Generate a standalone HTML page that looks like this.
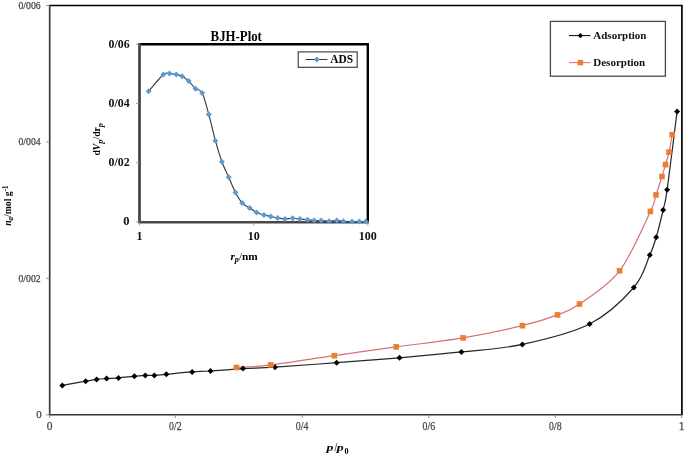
<!DOCTYPE html>
<html><head><meta charset="utf-8"><style>
html,body{margin:0;padding:0;background:#fff;}
svg{display:block;filter:blur(0.3px);}
.tk{font-family:"Liberation Serif",serif;font-size:10.8px;fill:#444;stroke:#444;stroke-width:0.25px;}
.ttl{font-family:"Liberation Serif",serif;font-size:12px;font-weight:bold;fill:#000;}
.lg{font-family:"Liberation Serif",serif;font-size:11px;font-weight:bold;fill:#111;}
.itk{font-family:"Liberation Serif",serif;font-size:12px;font-weight:bold;fill:#111;}
.itl{font-family:"Liberation Serif",serif;font-size:13px;font-weight:bold;fill:#000;}
.itl2{font-family:"Liberation Serif",serif;font-size:12px;font-weight:bold;fill:#000;}
</style></head><body>
<svg width="685" height="456" viewBox="0 0 685 456">
<rect width="685" height="456" fill="#fff"/>
<line x1="48.90" y1="5.50" x2="682.70" y2="5.50" stroke="#000" stroke-width="1.7"/>
<line x1="681.90" y1="5.50" x2="681.90" y2="414.80" stroke="#000" stroke-width="1.7"/>
<line x1="49.70" y1="5.50" x2="49.70" y2="414.80" stroke="#3a3a3a" stroke-width="1.7"/>
<line x1="48.90" y1="414.80" x2="682.70" y2="414.80" stroke="#333" stroke-width="1.6"/>
<line x1="46.20" y1="414.80" x2="49.70" y2="414.80" stroke="#777" stroke-width="0.8"/>
<text x="41.7" y="418.40" class="tk" text-anchor="end">0</text>
<line x1="46.20" y1="278.37" x2="49.70" y2="278.37" stroke="#777" stroke-width="0.8"/>
<text x="40.6" y="281.57" class="tk" text-anchor="end" textLength="22.1" lengthAdjust="spacingAndGlyphs">0/002</text>
<line x1="46.20" y1="141.93" x2="49.70" y2="141.93" stroke="#777" stroke-width="0.8"/>
<text x="40.6" y="145.13" class="tk" text-anchor="end" textLength="22.1" lengthAdjust="spacingAndGlyphs">0/004</text>
<line x1="46.20" y1="5.50" x2="49.70" y2="5.50" stroke="#777" stroke-width="0.8"/>
<text x="40.6" y="8.70" class="tk" text-anchor="end" textLength="22.1" lengthAdjust="spacingAndGlyphs">0/006</text>
<line x1="49.70" y1="414.80" x2="49.70" y2="418.10" stroke="#777" stroke-width="0.8"/>
<text x="49.70" y="429.8" class="tk" text-anchor="middle" style="font-size:11.5px">0</text>
<line x1="175.30" y1="414.80" x2="175.30" y2="418.10" stroke="#777" stroke-width="0.8"/>
<text x="175.30" y="429.8" class="tk" text-anchor="middle" style="font-size:11.5px" textLength="12.5" lengthAdjust="spacingAndGlyphs">0/2</text>
<line x1="302.10" y1="414.80" x2="302.10" y2="418.10" stroke="#777" stroke-width="0.8"/>
<text x="302.10" y="429.8" class="tk" text-anchor="middle" style="font-size:11.5px" textLength="12.5" lengthAdjust="spacingAndGlyphs">0/4</text>
<line x1="428.80" y1="414.80" x2="428.80" y2="418.10" stroke="#777" stroke-width="0.8"/>
<text x="428.80" y="429.8" class="tk" text-anchor="middle" style="font-size:11.5px" textLength="12.5" lengthAdjust="spacingAndGlyphs">0/6</text>
<line x1="555.30" y1="414.80" x2="555.30" y2="418.10" stroke="#777" stroke-width="0.8"/>
<text x="555.30" y="429.8" class="tk" text-anchor="middle" style="font-size:11.5px" textLength="12.5" lengthAdjust="spacingAndGlyphs">0/8</text>
<line x1="681.60" y1="414.80" x2="681.60" y2="418.10" stroke="#777" stroke-width="0.8"/>
<text x="681.60" y="429.8" class="tk" text-anchor="middle" style="font-size:11.5px">1</text>
<text x="326.5" y="450.7" class="ttl" style="font-size:11.3px" font-style="italic" textLength="6.9" lengthAdjust="spacingAndGlyphs">p</text>
<line x1="334.7" y1="451.4" x2="337.0" y2="443.0" stroke="#666" stroke-width="0.9"/>
<text x="336.8" y="450.7" class="ttl" style="font-size:11.3px" font-style="italic" textLength="6.9" lengthAdjust="spacingAndGlyphs">p</text>
<text x="344.5" y="454.0" class="ttl" style="font-size:8.2px">0</text>
<text transform="translate(10.8,225.8) rotate(-90)" class="ttl" style="font-size:10.5px" textLength="40.3" lengthAdjust="spacingAndGlyphs"><tspan font-style="italic">n</tspan><tspan font-style="italic" style="font-size:7.5px" dy="1.9">a</tspan><tspan dy="-1.9" font-weight="normal">/</tspan>mol g<tspan style="font-size:7.5px" dy="-2.4">-1</tspan></text>
<path d="M236.40,367.50 C242.10,367.07 254.28,366.87 270.60,364.90 C286.92,362.93 313.37,358.70 334.30,355.70 C355.23,352.70 374.73,349.87 396.20,346.90 C417.67,343.93 442.07,341.43 463.10,337.90 C484.13,334.37 506.67,329.53 522.40,325.70 C538.13,321.87 547.98,318.52 557.50,314.90 C567.02,311.28 569.15,311.35 579.50,304.00 C589.85,296.65 607.78,286.23 619.60,270.80 C631.42,255.37 644.33,224.05 650.40,211.40 C656.47,198.75 654.07,200.72 656.00,194.90 C657.93,189.08 660.42,181.55 662.00,176.50 C663.58,171.45 664.33,168.67 665.50,164.60 C666.67,160.53 667.88,157.08 669.00,152.10 C670.12,147.12 671.67,137.60 672.20,134.70" fill="none" stroke="#d87070" stroke-width="1.2"/>
<path d="M62.30,385.40 C66.20,384.70 79.98,382.20 85.70,381.20 C91.42,380.20 93.12,379.83 96.60,379.40 C100.08,378.97 102.95,378.85 106.60,378.60 C110.25,378.35 113.87,378.28 118.50,377.90 C123.13,377.52 129.93,376.72 134.40,376.30 C138.87,375.88 141.97,375.55 145.30,375.40 C148.63,375.25 150.90,375.58 154.40,375.40 C157.90,375.22 160.02,374.88 166.30,374.30 C172.58,373.72 184.73,372.45 192.10,371.90 C199.47,371.35 202.02,371.55 210.50,371.00 C218.98,370.45 232.25,369.23 243.00,368.60 C253.75,367.97 259.40,368.18 275.00,367.20 C290.60,366.22 315.85,364.27 336.60,362.70 C357.35,361.13 378.70,359.60 399.50,357.80 C420.30,356.00 440.92,354.13 461.40,351.90 C481.88,349.67 501.03,349.05 522.40,344.40 C543.77,339.75 571.03,333.48 589.60,324.00 C608.17,314.52 623.77,298.98 633.80,287.50 C643.83,276.02 646.07,263.47 649.80,255.10 C653.53,246.73 653.98,244.82 656.20,237.30 C658.42,229.78 661.28,217.92 663.10,210.00 C664.92,202.08 664.77,206.23 667.10,189.80 C669.43,173.37 675.43,124.47 677.10,111.40" fill="none" stroke="#262626" stroke-width="1.2"/>
<path d="M62.30,382.40 L65.30,385.40 L62.30,388.40 L59.30,385.40 Z" fill="#000"/>
<path d="M85.70,378.20 L88.70,381.20 L85.70,384.20 L82.70,381.20 Z" fill="#000"/>
<path d="M96.60,376.40 L99.60,379.40 L96.60,382.40 L93.60,379.40 Z" fill="#000"/>
<path d="M106.60,375.60 L109.60,378.60 L106.60,381.60 L103.60,378.60 Z" fill="#000"/>
<path d="M118.50,374.90 L121.50,377.90 L118.50,380.90 L115.50,377.90 Z" fill="#000"/>
<path d="M134.40,373.30 L137.40,376.30 L134.40,379.30 L131.40,376.30 Z" fill="#000"/>
<path d="M145.30,372.40 L148.30,375.40 L145.30,378.40 L142.30,375.40 Z" fill="#000"/>
<path d="M154.40,372.40 L157.40,375.40 L154.40,378.40 L151.40,375.40 Z" fill="#000"/>
<path d="M166.30,371.30 L169.30,374.30 L166.30,377.30 L163.30,374.30 Z" fill="#000"/>
<path d="M192.10,368.90 L195.10,371.90 L192.10,374.90 L189.10,371.90 Z" fill="#000"/>
<path d="M210.50,368.00 L213.50,371.00 L210.50,374.00 L207.50,371.00 Z" fill="#000"/>
<path d="M243.00,365.60 L246.00,368.60 L243.00,371.60 L240.00,368.60 Z" fill="#000"/>
<path d="M275.00,364.20 L278.00,367.20 L275.00,370.20 L272.00,367.20 Z" fill="#000"/>
<path d="M336.60,359.70 L339.60,362.70 L336.60,365.70 L333.60,362.70 Z" fill="#000"/>
<path d="M399.50,354.80 L402.50,357.80 L399.50,360.80 L396.50,357.80 Z" fill="#000"/>
<path d="M461.40,348.90 L464.40,351.90 L461.40,354.90 L458.40,351.90 Z" fill="#000"/>
<path d="M522.40,341.40 L525.40,344.40 L522.40,347.40 L519.40,344.40 Z" fill="#000"/>
<path d="M589.60,321.00 L592.60,324.00 L589.60,327.00 L586.60,324.00 Z" fill="#000"/>
<path d="M633.80,284.50 L636.80,287.50 L633.80,290.50 L630.80,287.50 Z" fill="#000"/>
<path d="M649.80,252.10 L652.80,255.10 L649.80,258.10 L646.80,255.10 Z" fill="#000"/>
<path d="M656.20,234.30 L659.20,237.30 L656.20,240.30 L653.20,237.30 Z" fill="#000"/>
<path d="M663.10,207.00 L666.10,210.00 L663.10,213.00 L660.10,210.00 Z" fill="#000"/>
<path d="M667.10,186.80 L670.10,189.80 L667.10,192.80 L664.10,189.80 Z" fill="#000"/>
<path d="M677.10,108.40 L680.10,111.40 L677.10,114.40 L674.10,111.40 Z" fill="#000"/>
<rect x="233.60" y="364.70" width="5.60" height="5.60" fill="#ed7d31"/>
<rect x="267.80" y="362.10" width="5.60" height="5.60" fill="#ed7d31"/>
<rect x="331.50" y="352.90" width="5.60" height="5.60" fill="#ed7d31"/>
<rect x="393.40" y="344.10" width="5.60" height="5.60" fill="#ed7d31"/>
<rect x="460.30" y="335.10" width="5.60" height="5.60" fill="#ed7d31"/>
<rect x="519.60" y="322.90" width="5.60" height="5.60" fill="#ed7d31"/>
<rect x="554.70" y="312.10" width="5.60" height="5.60" fill="#ed7d31"/>
<rect x="576.70" y="301.20" width="5.60" height="5.60" fill="#ed7d31"/>
<rect x="616.80" y="268.00" width="5.60" height="5.60" fill="#ed7d31"/>
<rect x="647.60" y="208.60" width="5.60" height="5.60" fill="#ed7d31"/>
<rect x="653.20" y="192.10" width="5.60" height="5.60" fill="#ed7d31"/>
<rect x="659.20" y="173.70" width="5.60" height="5.60" fill="#ed7d31"/>
<rect x="662.70" y="161.80" width="5.60" height="5.60" fill="#ed7d31"/>
<rect x="666.20" y="149.30" width="5.60" height="5.60" fill="#ed7d31"/>
<rect x="669.40" y="131.90" width="5.60" height="5.60" fill="#ed7d31"/>
<rect x="550.4" y="21.4" width="115" height="54.8" fill="#fff" stroke="#4a4a4a" stroke-width="1.3"/>
<line x1="569" y1="35.6" x2="590.5" y2="35.6" stroke="#000" stroke-width="1"/>
<path d="M580.40,33.00 L583.00,35.60 L580.40,38.20 L577.80,35.60 Z" fill="#000"/>
<text x="593.3" y="39.3" class="lg">Adsorption</text>
<line x1="569" y1="62.6" x2="590.5" y2="62.6" stroke="#d88080" stroke-width="1.1"/>
<rect x="577.70" y="59.90" width="5.40" height="5.40" fill="#ed7d31"/>
<text x="593.3" y="65.7" class="lg">Desorption</text>
<rect x="139.50" y="44.20" width="228.30" height="177.80" fill="#fff"/>
<line x1="138.50" y1="44.20" x2="369.00" y2="44.20" stroke="#000" stroke-width="2.6"/>
<line x1="367.80" y1="44.20" x2="367.80" y2="222.00" stroke="#000" stroke-width="2.4"/>
<line x1="139.50" y1="43.20" x2="139.50" y2="222.00" stroke="#484848" stroke-width="2.8"/>
<line x1="138.10" y1="222.30" x2="368.90" y2="222.30" stroke="#484848" stroke-width="2.6"/>
<line x1="136" y1="222.00" x2="139.50" y2="222.00" stroke="#888" stroke-width="0.8"/>
<text x="129.6" y="225.40" class="itk" text-anchor="end" style="font-size:12.5px">0</text>
<line x1="136" y1="162.73" x2="139.50" y2="162.73" stroke="#888" stroke-width="0.8"/>
<text x="129.6" y="166.13" class="itk" text-anchor="end" style="font-size:12.5px" textLength="21.1" lengthAdjust="spacingAndGlyphs">0/02</text>
<line x1="136" y1="103.47" x2="139.50" y2="103.47" stroke="#888" stroke-width="0.8"/>
<text x="129.6" y="106.87" class="itk" text-anchor="end" style="font-size:12.5px" textLength="21.1" lengthAdjust="spacingAndGlyphs">0/04</text>
<line x1="136" y1="44.20" x2="139.50" y2="44.20" stroke="#888" stroke-width="0.8"/>
<text x="129.6" y="47.60" class="itk" text-anchor="end" style="font-size:12.5px" textLength="21.1" lengthAdjust="spacingAndGlyphs">0/06</text>
<line x1="139.50" y1="222.00" x2="139.50" y2="225.50" stroke="#888" stroke-width="0.8"/>
<text x="139.50" y="240" class="itk" text-anchor="middle">1</text>
<line x1="253.65" y1="222.00" x2="253.65" y2="225.50" stroke="#888" stroke-width="0.8"/>
<text x="253.65" y="240" class="itk" text-anchor="middle">10</text>
<line x1="367.80" y1="222.00" x2="367.80" y2="225.50" stroke="#888" stroke-width="0.8"/>
<text x="367.80" y="240" class="itk" text-anchor="middle">100</text>
<text x="210.6" y="40.6" class="itl" style="font-size:13.8px" textLength="51.3" lengthAdjust="spacingAndGlyphs">BJH-Plot</text>
<text x="230.4" y="259.8" class="itl" style="font-size:11px" textLength="27.4" lengthAdjust="spacingAndGlyphs"><tspan font-style="italic">r</tspan><tspan font-style="italic" style="font-size:8px" dy="2.5">p</tspan><tspan dy="-2.5" font-weight="normal">/</tspan>nm</text>
<text transform="translate(100.4,155.6) rotate(-90)" class="itl2" style="font-size:10px" textLength="32.6" lengthAdjust="spacingAndGlyphs">d<tspan font-style="italic">V</tspan><tspan font-style="italic" style="font-size:8.5px" dy="2.4">p</tspan><tspan dy="-2.4" font-weight="normal">/</tspan>dr<tspan font-style="italic" style="font-size:8.5px" dy="2.4">p</tspan></text>
<path d="M148.60,91.30 C151.07,88.50 159.92,77.45 163.40,74.50 C166.88,71.55 167.37,73.60 169.50,73.60 C171.63,73.60 174.10,74.05 176.20,74.50 C178.30,74.95 180.02,75.20 182.10,76.30 C184.18,77.40 186.47,79.03 188.70,81.10 C190.93,83.17 193.25,86.73 195.50,88.70 C197.75,90.67 199.98,88.62 202.20,92.90 C204.42,97.18 206.60,106.43 208.80,114.40 C211.00,122.37 213.22,132.80 215.40,140.70 C217.58,148.60 219.68,155.70 221.90,161.80 C224.12,167.90 226.43,172.18 228.70,177.30 C230.97,182.42 233.25,188.22 235.50,192.50 C237.75,196.78 239.83,200.42 242.20,203.00 C244.57,205.58 247.28,206.42 249.70,208.00 C252.12,209.58 254.32,211.35 256.70,212.50 C259.08,213.65 261.67,214.23 264.00,214.90 C266.33,215.57 268.42,215.98 270.70,216.50 C272.98,217.02 275.33,217.60 277.70,218.00 C280.07,218.40 282.42,218.85 284.90,218.90 C287.38,218.95 290.10,218.27 292.60,218.30 C295.10,218.33 297.42,218.87 299.90,219.10 C302.38,219.33 305.12,219.45 307.50,219.70 C309.88,219.95 311.93,220.45 314.20,220.60 C316.47,220.75 318.62,220.50 321.10,220.60 C323.58,220.70 326.48,221.20 329.10,221.20 C331.72,221.20 334.42,220.60 336.80,220.60 C339.18,220.60 340.87,221.03 343.40,221.20 C345.93,221.37 349.35,221.53 352.00,221.60 C354.65,221.67 357.03,221.60 359.30,221.60 C361.57,221.60 364.55,221.60 365.60,221.60" fill="none" stroke="#3a3a3a" stroke-width="1.15"/>
<path d="M148.60,88.30 L151.60,91.30 L148.60,94.30 L145.60,91.30 Z" fill="#5b9bd5"/>
<path d="M163.40,71.50 L166.40,74.50 L163.40,77.50 L160.40,74.50 Z" fill="#5b9bd5"/>
<path d="M169.50,70.60 L172.50,73.60 L169.50,76.60 L166.50,73.60 Z" fill="#5b9bd5"/>
<path d="M176.20,71.50 L179.20,74.50 L176.20,77.50 L173.20,74.50 Z" fill="#5b9bd5"/>
<path d="M182.10,73.30 L185.10,76.30 L182.10,79.30 L179.10,76.30 Z" fill="#5b9bd5"/>
<path d="M188.70,78.10 L191.70,81.10 L188.70,84.10 L185.70,81.10 Z" fill="#5b9bd5"/>
<path d="M195.50,85.70 L198.50,88.70 L195.50,91.70 L192.50,88.70 Z" fill="#5b9bd5"/>
<path d="M202.20,89.90 L205.20,92.90 L202.20,95.90 L199.20,92.90 Z" fill="#5b9bd5"/>
<path d="M208.80,111.40 L211.80,114.40 L208.80,117.40 L205.80,114.40 Z" fill="#5b9bd5"/>
<path d="M215.40,137.70 L218.40,140.70 L215.40,143.70 L212.40,140.70 Z" fill="#5b9bd5"/>
<path d="M221.90,158.80 L224.90,161.80 L221.90,164.80 L218.90,161.80 Z" fill="#5b9bd5"/>
<path d="M228.70,174.30 L231.70,177.30 L228.70,180.30 L225.70,177.30 Z" fill="#5b9bd5"/>
<path d="M235.50,189.50 L238.50,192.50 L235.50,195.50 L232.50,192.50 Z" fill="#5b9bd5"/>
<path d="M242.20,200.00 L245.20,203.00 L242.20,206.00 L239.20,203.00 Z" fill="#5b9bd5"/>
<path d="M249.70,205.00 L252.70,208.00 L249.70,211.00 L246.70,208.00 Z" fill="#5b9bd5"/>
<path d="M256.70,209.50 L259.70,212.50 L256.70,215.50 L253.70,212.50 Z" fill="#5b9bd5"/>
<path d="M264.00,211.90 L267.00,214.90 L264.00,217.90 L261.00,214.90 Z" fill="#5b9bd5"/>
<path d="M270.70,213.50 L273.70,216.50 L270.70,219.50 L267.70,216.50 Z" fill="#5b9bd5"/>
<path d="M277.70,215.00 L280.70,218.00 L277.70,221.00 L274.70,218.00 Z" fill="#5b9bd5"/>
<path d="M284.90,215.90 L287.90,218.90 L284.90,221.90 L281.90,218.90 Z" fill="#5b9bd5"/>
<path d="M292.60,215.30 L295.60,218.30 L292.60,221.30 L289.60,218.30 Z" fill="#5b9bd5"/>
<path d="M299.90,216.10 L302.90,219.10 L299.90,222.10 L296.90,219.10 Z" fill="#5b9bd5"/>
<path d="M307.50,216.70 L310.50,219.70 L307.50,222.70 L304.50,219.70 Z" fill="#5b9bd5"/>
<path d="M314.20,217.60 L317.20,220.60 L314.20,223.60 L311.20,220.60 Z" fill="#5b9bd5"/>
<path d="M321.10,217.60 L324.10,220.60 L321.10,223.60 L318.10,220.60 Z" fill="#5b9bd5"/>
<path d="M329.10,218.20 L332.10,221.20 L329.10,224.20 L326.10,221.20 Z" fill="#5b9bd5"/>
<path d="M336.80,217.60 L339.80,220.60 L336.80,223.60 L333.80,220.60 Z" fill="#5b9bd5"/>
<path d="M343.40,218.20 L346.40,221.20 L343.40,224.20 L340.40,221.20 Z" fill="#5b9bd5"/>
<path d="M352.00,218.60 L355.00,221.60 L352.00,224.60 L349.00,221.60 Z" fill="#5b9bd5"/>
<path d="M359.30,218.60 L362.30,221.60 L359.30,224.60 L356.30,221.60 Z" fill="#5b9bd5"/>
<path d="M365.60,218.60 L368.60,221.60 L365.60,224.60 L362.60,221.60 Z" fill="#5b9bd5"/>
<rect x="298.2" y="51.9" width="59" height="15.4" fill="#fff" stroke="#464646" stroke-width="1.2"/>
<line x1="305.5" y1="59.5" x2="327.4" y2="59.5" stroke="#333" stroke-width="1"/>
<path d="M316.80,56.60 L319.80,59.60 L316.80,62.60 L313.80,59.60 Z" fill="#5b9bd5"/>
<text x="330.2" y="63.3" class="itl" style="font-size:12px" textLength="22.8" lengthAdjust="spacingAndGlyphs">ADS</text>
</svg>
</body></html>
